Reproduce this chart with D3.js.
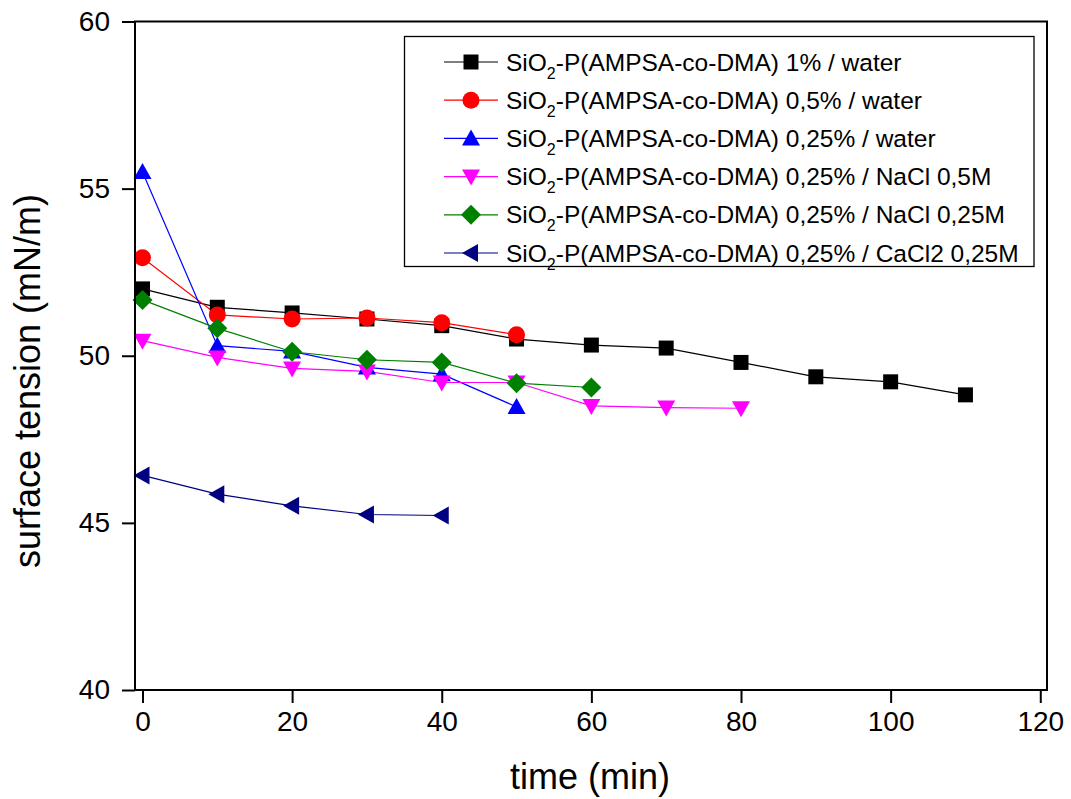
<!DOCTYPE html>
<html>
<head>
<meta charset="utf-8">
<script src="https://cdn.jsdelivr.net/npm/d3@7"></script>
<style>
  body { margin: 0; background: #fff; }
  text { font-family: "Liberation Sans", Arial, sans-serif; }
</style>
</head>
<body>
<div id="chart"></div>
<script>
// time points (min)
var times = [0, 10, 20, 30, 40, 50, 60, 70, 80, 90, 100, 110];

// surface tension values (mN/m), one array per series
var water1 = [52.0, 51.45, 51.28, 51.1, 50.9, 50.5, 50.32, 50.23, 49.8, 49.37, 49.22, 48.83];
var water05 = [52.93, 51.22, 51.1, 51.13, 50.99, 50.63];
var water025 = [55.5, 50.3, 50.13, 49.65, 49.45, 48.47];
var nacl05 = [50.45, 49.95, 49.62, 49.53, 49.2, 49.2, 48.5, 48.45, 48.43];
var nacl025 = [51.67, 50.82, 50.12, 49.88, 49.8, 49.18, 49.05];
var cacl025 = [46.42, 45.86, 45.51, 45.25, 45.22];

var seriesNames = [
    "1% / water",
    "0,5% / water",
    "0,25% / water",
    "0,25% / NaCl 0,5M",
    "0,25% / NaCl 0,25M",
    "0,25% / CaCl2 0,25M"
];

var xTicks = [0, 20, 40, 60, 80, 100, 120];
var yTicks = [40, 45, 50, 55, 60];

function init() {
    var width = 1071;
    var height = 799;
    var left = 135, right = 1047, top = 21.5, bottom = 690;

    var svg = d3.select("#chart")
        .append("svg")
        .attr("width", width)
        .attr("height", height);

    var x = d3.scaleLinear().domain([-1.0, 120.9]).range([left, right]);
    var y = d3.scaleLinear().domain([40, 60]).range([bottom, top]);

    var series = [
        { values: water1, color: "#000000", symbol: "square" },
        { values: water05, color: "#ff0000", symbol: "circle" },
        { values: water025, color: "#0000ff", symbol: "up" },
        { values: nacl05, color: "#ff00ff", symbol: "down" },
        { values: nacl025, color: "#008000", symbol: "diamond" },
        { values: cacl025, color: "#000080", symbol: "left" }
    ];

    // marker shapes drawn around 0,0
    function markerPath(sym) {
        if (sym === "square") return "M-7.5,-7.5H7.5V7.5H-7.5Z";
        if (sym === "up") return "M0,-9L9,7H-9Z";
        if (sym === "down") return "M0,9L9,-7H-9Z";
        if (sym === "diamond") return "M0,-10L10,0L0,10L-10,0Z";
        if (sym === "left") return "M-9,0L7,-9V9Z";
        return null;
    }

    function drawMarker(g, sym, color) {
        if (sym === "circle") {
            g.append("circle").attr("r", 8.5).attr("fill", color);
        } else {
            g.append("path").attr("d", markerPath(sym)).attr("fill", color);
        }
    }

    var line = d3.line()
        .x((d, i) => x(times[i]))
        .y(d => y(d));

    series.forEach(s => {
        svg.append("path")
            .datum(s.values)
            .attr("d", line)
            .attr("fill", "none")
            .attr("stroke", s.color)
            .attr("stroke-width", 1.2);
    });
    series.forEach(s => {
        s.values.forEach((v, i) => {
            var g = svg.append("g")
                .attr("transform", `translate(${x(times[i])},${y(v)})`);
            drawMarker(g, s.symbol, s.color);
        });
    });

    // frame
    svg.append("rect")
        .attr("x", left).attr("y", top)
        .attr("width", right - left).attr("height", bottom - top)
        .attr("fill", "none")
        .attr("stroke", "#000")
        .attr("stroke-width", 2);

    // x axis
    var xAxis = svg.append("g").attr("transform", `translate(0,${bottom})`);
    xAxis.call(d3.axisBottom(x).tickValues(d3.range(0, 121, 10)).tickSize(6).tickFormat(""));
    xAxis.call(d3.axisBottom(x).tickValues(xTicks).tickSize(13).tickPadding(8));
    xAxis.selectAll(".domain").remove();
    xAxis.selectAll("line").attr("stroke-width", 2);
    xAxis.selectAll("text").attr("font-size", 28).attr("fill", "#000")
        .style("font-family", "Liberation Sans, Arial, sans-serif");

    // y axis
    var yAxis = svg.append("g").attr("transform", `translate(${left},0)`);
    yAxis.call(d3.axisLeft(y).tickValues(d3.range(40, 60.1, 2.5)).tickSize(6).tickFormat(""));
    yAxis.call(d3.axisLeft(y).tickValues(yTicks).tickSize(13).tickPadding(12));
    yAxis.selectAll(".domain").remove();
    yAxis.selectAll("line").attr("stroke-width", 2);
    yAxis.selectAll("text").attr("font-size", 28).attr("fill", "#000")
        .style("font-family", "Liberation Sans, Arial, sans-serif");

    // axis titles
    svg.append("text")
        .attr("x", 590)
        .attr("y", 789)
        .attr("text-anchor", "middle")
        .attr("font-size", 36)
        .text("time (min)");

    svg.append("text")
        .attr("transform", "translate(40,381) rotate(-90)")
        .attr("text-anchor", "middle")
        .attr("font-size", 36)
        .text("surface tension (mN/m)");

    // legend
    var legend = svg.append("g");
    legend.append("rect")
        .attr("x", 404.5).attr("y", 36.5)
        .attr("width", 629.5).attr("height", 230)
        .attr("fill", "#fff")
        .attr("stroke", "#000")
        .attr("stroke-width", 1.3);

    series.forEach((s, i) => {
        var ry = 62 + i * 38.2;
        legend.append("line")
            .attr("x1", 444).attr("x2", 498)
            .attr("y1", ry).attr("y2", ry)
            .attr("stroke", s.color).attr("stroke-width", 1.2);
        var g = legend.append("g").attr("transform", `translate(471,${ry})`);
        drawMarker(g, s.symbol, s.color);
        var t = legend.append("text")
            .attr("x", 506).attr("y", ry + 8.6)
            .attr("font-size", 24.5);
        t.append("tspan").text("SiO");
        t.append("tspan").attr("font-size", 16).attr("dy", 8).text("2");
        t.append("tspan").attr("dy", -8).text("-P(AMPSA-co-DMA) " + seriesNames[i]);
    });
}

window.onload = init;
</script>
</body>
</html>
